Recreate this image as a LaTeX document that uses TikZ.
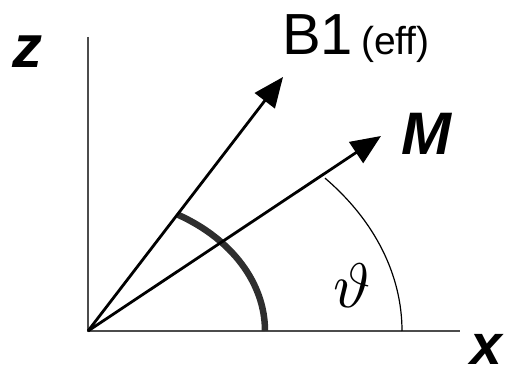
\documentclass[tikz,border=0pt]{standalone}
\usepackage{fontspec}
\setmainfont{Liberation Sans}
\usetikzlibrary{arrows.meta}
\begin{document}
\begin{tikzpicture}[x = 1pt, y = 1pt,
    axis/.style = {line width = 2.4pt, black!70},
    vec/.style = {line width = 2.8pt, -{Triangle[length = 30pt, width = 25pt]}},
    lbl/.style = {inner sep = 0pt, anchor = base west,
      font = \fontsize{60}{62}\selectfont\bfseries\itshape}]
    \useasboundingbox (0,0) rectangle (514,374);
    \coordinate (O) at (88,43);
    \coordinate (ztop) at (88,337);
    \coordinate (xend) at (460,43);
    \coordinate (Btip) at (283,297);
    \coordinate (Mtip) at (381,238);
    \draw [axis] (ztop) -- (O) -- (xend);
    % angles
    \draw [line width = 6.5pt, black!82] (O) ++(177,0)
      arc [start angle = 0, end angle = 59.4, x radius = 177, y radius = 135];
    \draw [line width = 1.2pt] (O) ++(314,0)
      arc [start angle = 0, end angle = 41, x radius = 314, y radius = 233];
    \draw [vec] (O) -- (Btip);
    \draw [vec] (O) -- (Mtip);
    % labels
    \node [lbl] (zlab) at (12,306) {z};
    \node [lbl, font = \fontsize{57}{59}\selectfont\bfseries\itshape] (xlab) at (470,9) {x};
    \node [lbl] (Mlab) at (401,219) {M};
    \node [inner sep = 0pt, anchor = base west, font = \fontsize{58}{60}\selectfont]
      (Blab) at (282,319) {B1\kern8pt{\fontsize{39}{41}\selectfont(eff)}};
    \node [scale = 6.3] (thlab) at (352,88) {$\vartheta$};
\end{tikzpicture}
\end{document}
